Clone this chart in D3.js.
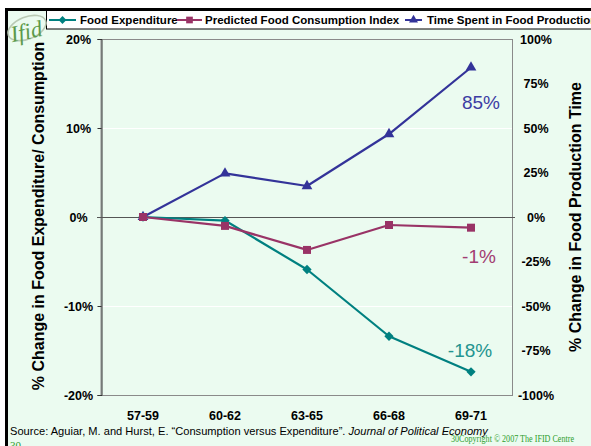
<!DOCTYPE html>
<html><head><meta charset="utf-8">
<script src="https://cdn.jsdelivr.net/npm/d3@7"></script>
<style>html,body{margin:0;padding:0;background:#fff;}svg{display:block;font-family:Arial,"Liberation Sans",sans-serif;}</style>
</head><body>
<svg id="chart" width="591" height="446"></svg>
<script>
const categories = ["57-59", "60-62", "63-65", "66-68", "69-71"];
const foodExpenditure = [0, -0.4, -5.9, -13.4, -17.4];
const predictedConsumption = [0, -1.0, -3.7, -0.9, -1.2];
const timeSpent = [0, 24.5, 17.4, 46.6, 84];
const leftTicks = [20, 10, 0, -10, -20];
const rightTicks = [100, 75, 50, 25, 0, -25, -50, -75, -100];
const seriesNames = ["Food Expenditure", "Predicted Food Consumption Index", "Time Spent in Food Production"];
const endLabels = ["-18%", "-1%", "85%"];

const svg = d3.select("#chart");
const bg = "#EBFBF0";
const cTeal = "#008080", cPlum = "#993366", cBlue = "#333399";

// frame
svg.append("rect").attr("x", 6.5).attr("y", 9.5).attr("width", 600).attr("height", 450)
  .attr("fill", bg).attr("stroke", "#000").attr("stroke-width", 3);

const L = 101, R = 512, T = 39, B = 395;
const x = d3.scaleBand().domain(categories).range([L + 1, R]).padding(0);
const xc = d => x(d) + x.bandwidth() / 2;
const yL = d3.scaleLinear().domain([-20, 20]).range([B, T]);
const yR = d3.scaleLinear().domain([-100, 100]).range([B, T]);

// plot border
svg.append("rect").attr("x", L).attr("y", T + 0.5).attr("width", R - L + 0.5).attr("height", B - T)
  .attr("fill", bg).attr("stroke", "#8a8a8a").attr("stroke-width", 1);

// white gridlines
svg.append("g").selectAll("line").data(leftTicks.filter(t => t !== 0 && Math.abs(t) !== 20)).join("line")
  .attr("x1", L + 1).attr("x2", R).attr("y1", d => Math.round(yL(d)) + 0.5).attr("y2", d => Math.round(yL(d)) + 0.5)
  .attr("stroke", "#fff").attr("stroke-width", 1);

// left axis
const axL = svg.append("g").attr("transform", `translate(${L + 0.5},0)`)
  .call(d3.axisLeft(yL).tickValues(leftTicks).tickSize(4).tickFormat(d => d + "%"));
axL.select(".domain").attr("stroke", "#333");
axL.selectAll(".tick line").attr("stroke", "#333");
axL.selectAll(".tick text").attr("x", -23).attr("text-anchor", "middle")
  .attr("font-size", "12.5px").attr("font-weight", "bold").attr("fill", "#000").attr("font-family", "Arial, 'Liberation Sans', sans-serif");

// right axis (labels only)
const axR = svg.append("g").attr("transform", `translate(${R},0)`)
  .call(d3.axisRight(yR).tickValues(rightTicks).tickSize(0).tickFormat(d => d + "%"));
axR.select(".domain").remove();
axR.selectAll(".tick text").attr("x", 24).attr("text-anchor", "middle")
  .attr("font-size", "12.5px").attr("font-weight", "bold").attr("fill", "#000").attr("font-family", "Arial, 'Liberation Sans', sans-serif");

// zero line
svg.append("line").attr("x1", L - 4).attr("x2", R + 3).attr("y1", Math.round(yL(0)) + 0.5).attr("y2", Math.round(yL(0)) + 0.5)
  .attr("stroke", "#555").attr("stroke-width", 1.2);

// x axis labels
const axX = svg.append("g").attr("transform", `translate(0,${B})`)
  .call(d3.axisBottom(x).tickSize(0).tickPadding(16));
axX.select(".domain").remove();
axX.selectAll(".tick text").attr("font-size", "12.5px").attr("font-weight", "bold").attr("fill", "#000")
  .attr("font-family", "Arial, 'Liberation Sans', sans-serif");

// series
const series = [
  { name: seriesNames[0], vals: foodExpenditure, y: yL, color: cTeal, sym: d3.symbolDiamond2, size: 55 },
  { name: seriesNames[1], vals: predictedConsumption, y: yL, color: cPlum, sym: d3.symbolSquare, size: 64 },
  { name: seriesNames[2], vals: timeSpent, y: yR, color: cBlue, sym: d3.symbolTriangle, size: 50 }
];
const drawOrder = [2, 0, 1];
drawOrder.forEach(i => {
  const s = series[i];
  const line = d3.line().x((d, j) => xc(categories[j])).y(d => s.y(d));
  svg.append("path").datum(s.vals).attr("d", line).attr("fill", "none")
    .attr("stroke", s.color).attr("stroke-width", 2.2).attr("stroke-linejoin", "round");
  svg.append("g").selectAll("path").data(s.vals).join("path")
    .attr("d", d3.symbol().type(s.sym).size(s.size))
    .attr("transform", (d, j) => `translate(${xc(categories[j])},${s.y(d)})`)
    .attr("fill", s.color);
});

// end labels
const lastCat = categories[categories.length - 1];
const labelCol = ["#23948F", "#A23C72", "#3C3CA3"];
const labelPos = [
  { dx: -1, y: yL(foodExpenditure[4]) - 15 },
  { dx: 8, y: yL(predictedConsumption[4]) + 35 },
  { dx: 10, y: yR(timeSpent[4]) + 42 }
];
endLabels.forEach((t, i) => {
  svg.append("text").attr("x", xc(lastCat) + labelPos[i].dx).attr("y", labelPos[i].y)
    .attr("text-anchor", "middle").attr("font-size", "19px").attr("fill", labelCol[i]).text(t);
});

// axis titles
svg.append("text").attr("transform", `translate(44,216) rotate(-90)`).attr("text-anchor", "middle")
  .attr("font-size", "16px").attr("font-weight", "bold").attr("fill", "#000")
  .text("% Change in Food Expenditure/ Consumption");
svg.append("text").attr("transform", `translate(581,217) rotate(-90)`).attr("text-anchor", "middle")
  .attr("font-size", "16px").attr("font-weight", "bold").attr("fill", "#000")
  .text("% Change in Food Production Time");

// legend
svg.append("rect").attr("x", 46.5).attr("y", 10.5).attr("width", 560).attr("height", 18.5)
  .attr("fill", "#fff").attr("stroke", "#000").attr("stroke-width", 1);
const legendItems = [
  { x1: 49, x2: 76, tx: 80 },
  { x1: 177, x2: 202, tx: 205 },
  { x1: 405, x2: 422, tx: 427 }
];
series.forEach((s, i) => {
  const li = legendItems[i];
  const ly = 20;
  svg.append("line").attr("x1", li.x1).attr("x2", li.x2).attr("y1", ly).attr("y2", ly)
    .attr("stroke", s.color).attr("stroke-width", 2);
  svg.append("path").attr("d", d3.symbol().type(s.sym).size(s.size * 0.7)())
    .attr("transform", `translate(${(li.x1 + li.x2) / 2},${ly})`).attr("fill", s.color);
  svg.append("text").attr("x", li.tx).attr("y", ly + 4).attr("font-size", "11.5px").attr("font-weight", "bold")
    .attr("fill", "#000").text(s.name);
});

// logo
const logo = svg.append("g").attr("transform", "translate(27,28) rotate(-22)");
logo.append("ellipse").attr("rx", 20).attr("ry", 11).attr("fill", "none").attr("stroke", "#b9c9b4").attr("stroke-width", 1.6);
svg.append("text").attr("x", 10).attr("y", 39).attr("transform", "rotate(-12,27,30)")
  .attr("font-family", "'Liberation Serif','DejaVu Serif',serif").attr("font-style", "italic")
  .attr("font-size", "23px").attr("fill", "#5C9A4A").text("Ifid");

// footer
const src = svg.append("text").attr("x", 10).attr("y", 435).attr("font-size", "11.1px").attr("fill", "#000");
src.append("tspan").text("Source: Aguiar, M. and Hurst, E. \u201cConsumption versus Expenditure\u201d. ");
src.append("tspan").attr("font-style", "italic").text("Journal of Political Economy");
svg.append("text").attr("x", 10).attr("y", 449).attr("font-family", "'Liberation Serif',serif")
  .attr("font-size", "11px").attr("fill", "#2E9E2E").text("30");
svg.append("text").attr("x", 451).attr("y", 442).attr("font-family", "'Liberation Serif',serif")
  .attr("font-size", "9.5px").attr("fill", "#2E9E2E")
  .attr("textLength", 123).attr("lengthAdjust", "spacingAndGlyphs")
  .text("30Copyright \u00a9 2007 The IFID Centre");
</script>
</body></html>
